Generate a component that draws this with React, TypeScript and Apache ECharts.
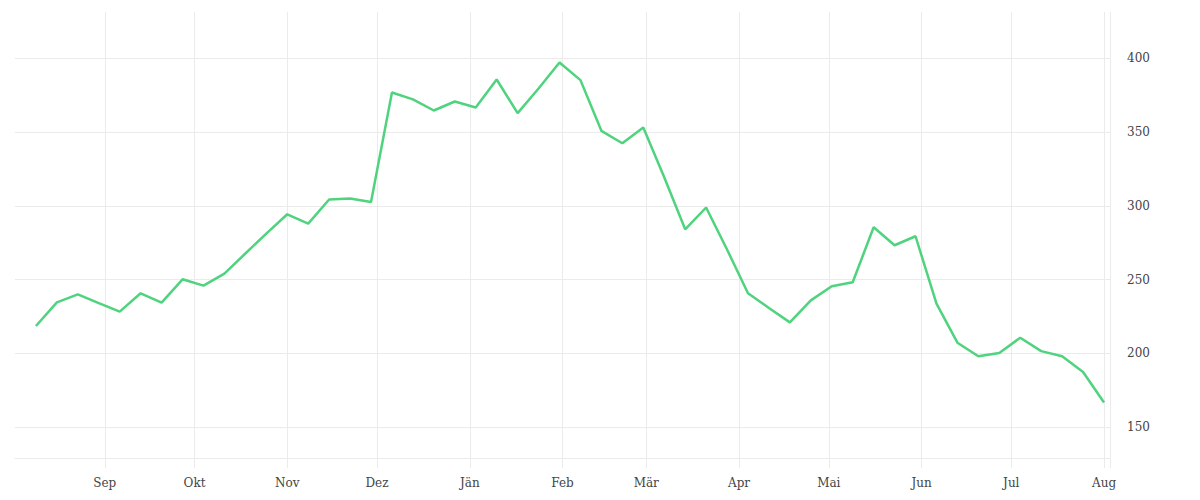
import React, { useEffect, useRef } from "react";
import * as echarts from "echarts";

// Weekly dates (x categories)
const dates: string[] = [
  "2022-08-09", "2022-08-16", "2022-08-23", "2022-08-30",
  "2022-09-06", "2022-09-13", "2022-09-20", "2022-09-27",
  "2022-10-04", "2022-10-11", "2022-10-18", "2022-10-25",
  "2022-11-01", "2022-11-08", "2022-11-15", "2022-11-22", "2022-11-29",
  "2022-12-06", "2022-12-13", "2022-12-20", "2022-12-27",
  "2023-01-03", "2023-01-10", "2023-01-17", "2023-01-24", "2023-01-31",
  "2023-02-07", "2023-02-14", "2023-02-21", "2023-02-28",
  "2023-03-07", "2023-03-14", "2023-03-21", "2023-03-28",
  "2023-04-04", "2023-04-11", "2023-04-18", "2023-04-25",
  "2023-05-02", "2023-05-09", "2023-05-16", "2023-05-23", "2023-05-30",
  "2023-06-06", "2023-06-13", "2023-06-20", "2023-06-27",
  "2023-07-04", "2023-07-11", "2023-07-18", "2023-07-25",
  "2023-08-01",
];

// Series values
const values: number[] = [
  218.5, 234.6, 240, 234, 228.3, 240.7, 234.4, 250.2,
  245.9, 254.1, 267.7, 281.2, 294.3, 288, 304.3, 305, 302.7,
  376.9, 372.2, 364.7, 370.8, 366.7, 385.7, 362.9, 379.6, 397.3,
  385.3, 350.9, 342.5, 353.2, 319.4, 284.1, 298.9, 270.4,
  240.7, 230.8, 221, 235.9, 245.5, 248.2, 285.5, 273.3, 279.4,
  233.7, 207.2, 198, 200.2, 210.6, 201.5, 198, 187.3, 166.7,
];

// X axis tick positions and labels
const monthTicks: string[] = [
  "2022-09-01", "2022-10-01", "2022-11-01", "2022-12-01", "2023-01-01", "2023-02-01",
  "2023-03-01", "2023-04-01", "2023-05-01", "2023-06-01", "2023-07-01", "2023-08-01",
];
const monthLabels: string[] = ["Sep", "Okt", "Nov", "Dez", "Jän", "Feb", "Mär", "Apr", "Mai", "Jun", "Jul", "Aug"];
const xRange: string[] = ["2022-08-02", "2023-08-03"];

// Y axis ticks
const yTicks: number[] = [150, 200, 250, 300, 350, 400];
const yRange: number[] = [129, 431.5];

const ts = (s: string) => {
  const [y, m, d] = s.split("-").map(Number);
  return Date.UTC(y, m - 1, d) / 86400000;
};

export default function App() {
  const ref = useRef<HTMLDivElement>(null);
  useEffect(() => {
    document.body.style.margin = "0";
    if (!ref.current) return;
    const chart = echarts.init(ref.current, undefined, { renderer: "svg" });
    const labelMap: Record<number, string> = {};
    monthTicks.forEach((m, i) => (labelMap[ts(m)] = monthLabels[i]));
    const grid = "#ebebeb";
    const font = "'DejaVu Serif', serif";
    chart.setOption({
      animation: false,
      backgroundColor: "#ffffff",
      grid: { left: 15, right: 90, top: 12, bottom: 42, containLabel: false },
      xAxis: {
        type: "value",
        min: ts(xRange[0]),
        max: ts(xRange[1]),
        axisLine: { show: true, onZero: false, lineStyle: { color: grid, width: 1 } },
        axisTick: {
          show: true,
          length: 10,
          lineStyle: { color: grid, width: 1 },
          customValues: [...monthTicks.map(ts), ts(xRange[1])],
        },
        splitLine: { show: true, lineStyle: { color: grid, width: 1 } },
        axisLabel: {
          customValues: monthTicks.map(ts),
          formatter: (v: number) => labelMap[Math.round(v)] ?? "",
          color: "#444",
          fontFamily: font,
          fontSize: 12,
          margin: 19,
          hideOverlap: false,
        },
      },
      yAxis: {
        type: "value",
        position: "right",
        min: yRange[0],
        max: yRange[1],
        axisLine: { show: false },
        axisTick: { show: false, customValues: yTicks },
        splitLine: { show: true, lineStyle: { color: grid, width: 1 } },
        axisLabel: {
          customValues: yTicks,
          color: "#444",
          fontFamily: font,
          fontSize: 12,
          margin: 17,
          padding: [3, 0, 0, 0],
        },
      },
      series: [
        {
          type: "line",
          data: dates.map((d, i) => [ts(d), values[i]]),
          showSymbol: false,
          symbol: "none",
          lineStyle: { color: "#4fd37e", width: 2.5 },
          itemStyle: { color: "#4fd37e" },
        },
      ],
    });
    return () => chart.dispose();
  }, []);
  return <div ref={ref} style={{ width: 1200, height: 500 }} />;
}
